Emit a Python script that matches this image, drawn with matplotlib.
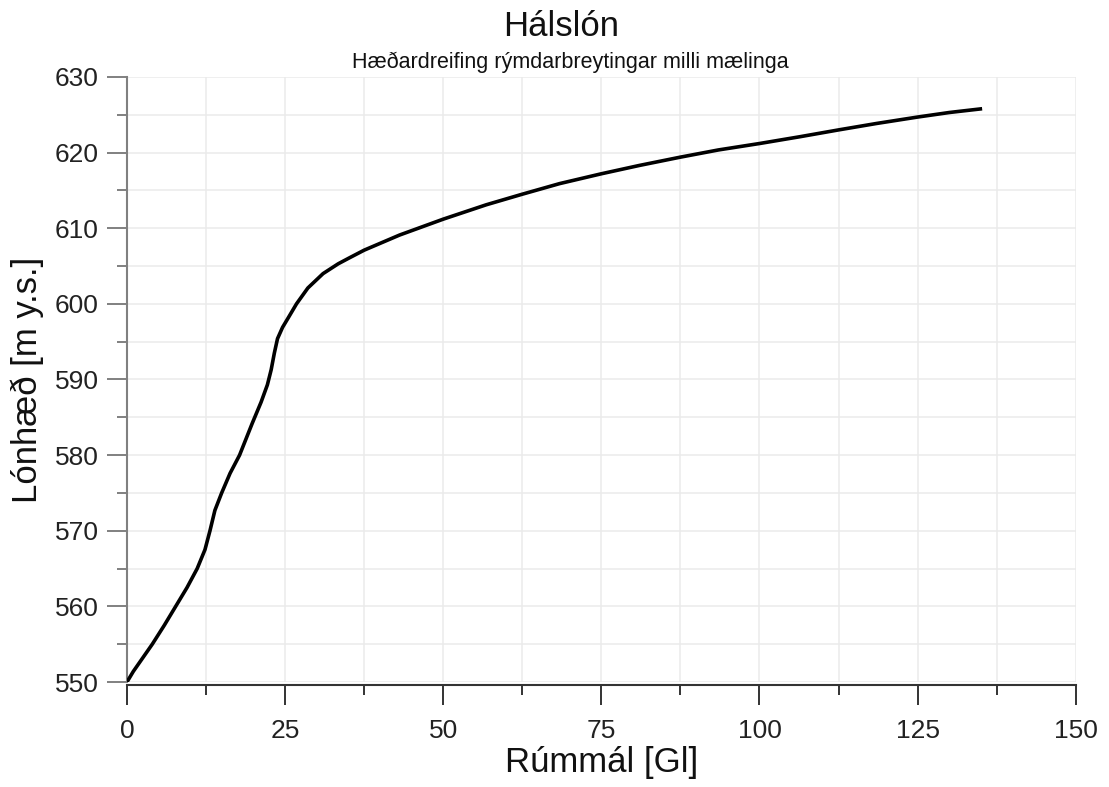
import numpy as np
import matplotlib.pyplot as plt

plt.rcParams['font.family'] = ['Liberation Sans', 'DejaVu Sans']

# rúmmál [Gl] og lónhæð [m y.s.], lesið af myndinni
rummal = [0, 1.0, 2.0, 4.0, 5.9, 7.7, 9.5, 11.1, 12.33, 13.12, 13.9, 14.97, 16.3,
          17.8, 18.8, 19.8, 21.2, 22.2, 22.8, 23.3, 23.8, 24.6, 25.6, 26.8, 28.6,
          31.0, 33.4, 35.2, 37.5, 43.1, 50.0, 56.8, 62.5, 68.4, 75.0, 81.0, 87.5,
          93.5, 100.0, 106.4, 112.5, 118.5, 125.0, 130.0, 135.2]
haed = [550, 551.4, 552.6, 555, 557.5, 560, 562.5, 565, 567.5, 570, 572.7, 575, 577.6,
        580, 582.1, 584.2, 587.0, 589.3, 591.3, 593.5, 595.4, 596.9, 598.3, 600.0, 602.1,
        604.0, 605.3, 606.1, 607.1, 609.1, 611.2, 613.1, 614.5, 615.9, 617.2, 618.3, 619.4,
        620.35, 621.2, 622.1, 623.0, 623.85, 624.7, 625.3, 625.8]

xmajor = [0, 25, 50, 75, 100, 125, 150]
ymajor = [550, 560, 570, 580, 590, 600, 610, 620, 630]

fig = plt.figure(figsize=(11.09, 7.87), dpi=100)
ax = fig.add_axes([0.1145, 0.1334, 0.8555, 0.7688])

ax.plot(rummal, haed, color='black', lw=2.6, solid_joinstyle='round',
        solid_capstyle='butt', zorder=3)

ax.set_xlim(0, 150)
ax.set_ylim(550, 630)
ax.set_xticks(xmajor)
ax.set_yticks(ymajor)
ax.set_xticks(np.arange(12.5, 150, 25), minor=True)
ax.set_yticks(np.arange(555, 630, 10), minor=True)

ax.grid(True, which='both', color='#ebebeb', lw=1.1, zorder=0)

for s in ['top', 'right']:
    ax.spines[s].set_visible(False)
ax.spines['bottom'].set_position(('outward', 2.5))
ax.spines['bottom'].set_color('#333333')
ax.spines['left'].set_color('#808080')
ax.spines['bottom'].set_linewidth(1.5)
ax.spines['left'].set_linewidth(1.5)

ax.tick_params(axis='x', which='major', length=14.4, width=1.4, color='#333333',
               labelsize=19, pad=10, labelcolor='#222222')
ax.tick_params(axis='x', which='minor', length=7.2, width=1.4, color='#333333')
ax.tick_params(axis='y', which='major', length=14.4, width=1.4, color='#808080',
               labelsize=19, pad=6, labelcolor='#222222')
ax.tick_params(axis='y', which='minor', length=7.2, width=1.4, color='#808080')

ax.set_xlabel('Rúmmál [Gl]', fontsize=25, labelpad=2, color='#111111')
ax.set_ylabel('Lónhæð [m y.s.]', fontsize=25, labelpad=8, color='#111111')

fig.text(0.506, 0.966, 'Hálslón', ha='center', va='center', fontsize=25, color='#111111')
fig.text(0.514, 0.921, 'Hæðardreifing rýmdarbreytingar milli mælinga', ha='center',
         va='center', fontsize=15.5, color='#111111')

fig.savefig('out.png', dpi=100)
